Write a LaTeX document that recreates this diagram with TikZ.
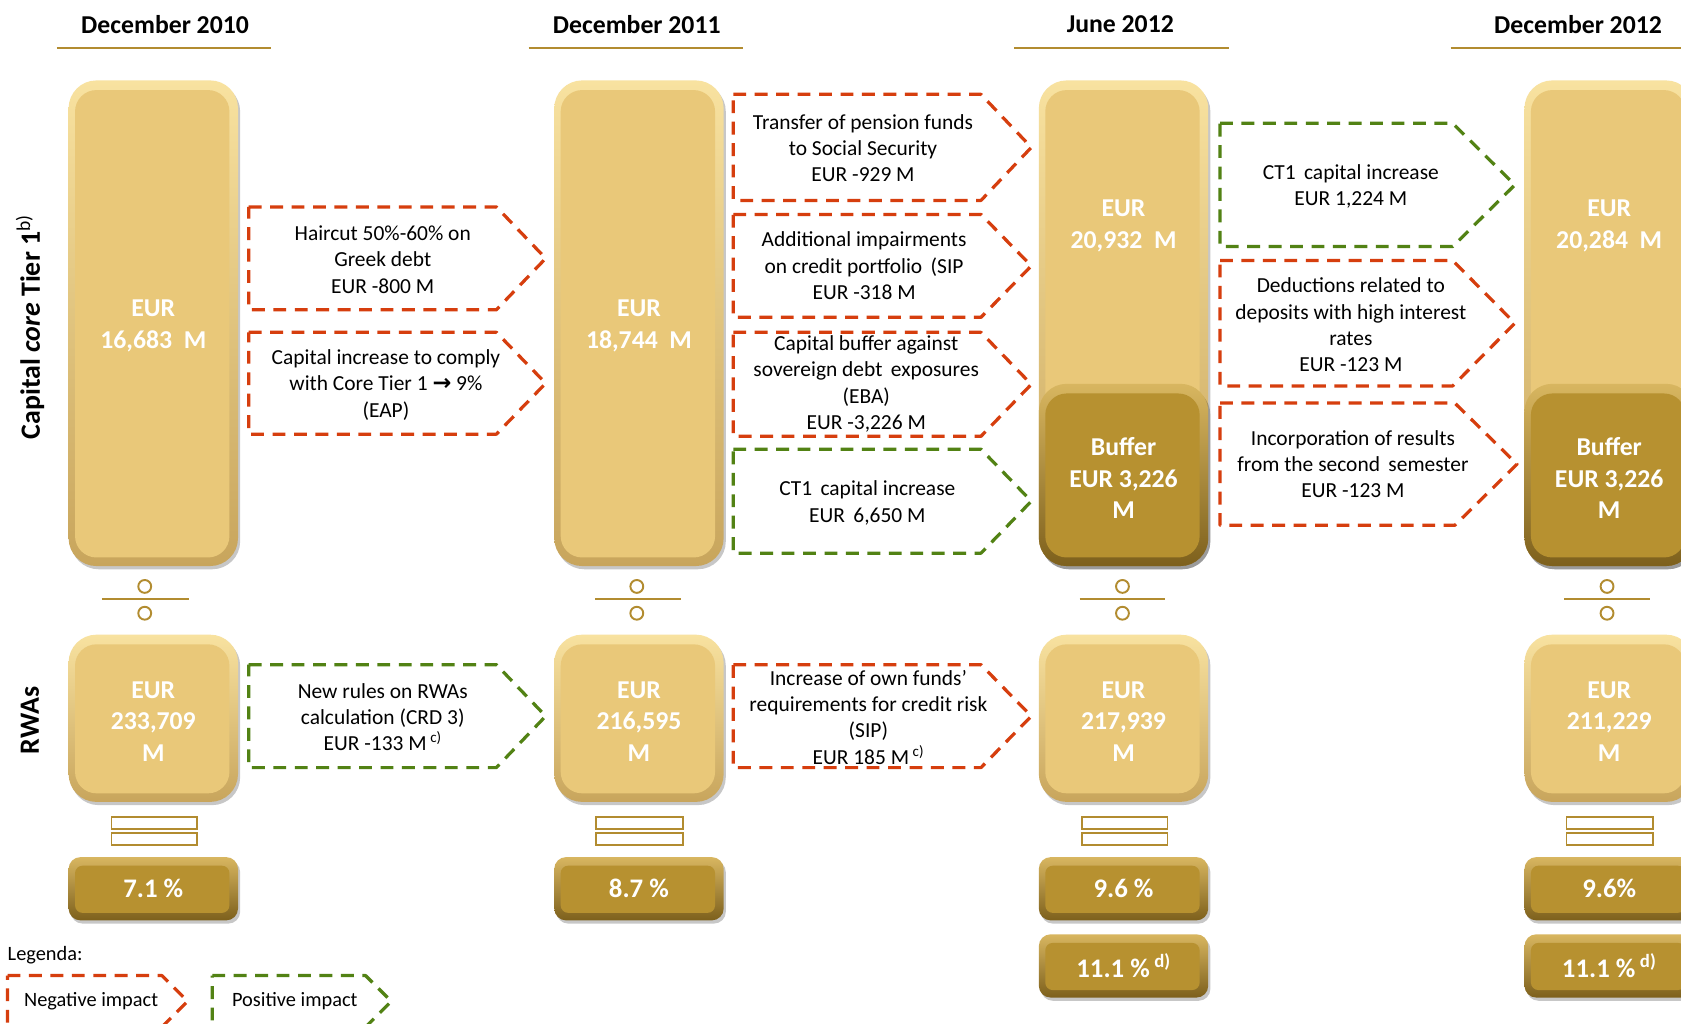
\documentclass[tikz,border=0pt]{standalone}
\usepackage{fontspec}
\setmainfont{Carlito}
\newfontfamily\symfont{DejaVu Sans}
\usetikzlibrary{shadows}

\definecolor{negc}{RGB}{214,62,14}
\definecolor{posc}{RGB}{82,130,20}
\definecolor{goldline}{RGB}{178,140,48}
\definecolor{barmain}{RGB}{233,200,121}
\definecolor{bartop}{RGB}{248,226,160}
\definecolor{barbot}{RGB}{200,165,92}
\definecolor{darkmain}{RGB}{183,145,48}
\definecolor{darktop}{RGB}{216,182,96}
\definecolor{darkbot}{RGB}{125,96,28}

\tikzset{
  lightbig/.style={rounded corners=26pt, draw=none, inner sep=0pt, top color=bartop, bottom color=barbot,
    drop shadow={shadow xshift=2pt, shadow yshift=-3pt, fill=black, opacity=0.22},
    path picture={\fill[barmain, rounded corners=20pt] ([shift={(6pt,-9pt)}]path picture bounding box.north west) rectangle ([shift={(-8pt,8pt)}]path picture bounding box.south east);}},
  darkbig/.style={rounded corners=26pt, draw=none, inner sep=0pt, top color=darktop, bottom color=darkbot,
    drop shadow={shadow xshift=2pt, shadow yshift=-3pt, fill=black, opacity=0.22},
    path picture={\fill[darkmain, rounded corners=20pt] ([shift={(6pt,-9pt)}]path picture bounding box.north west) rectangle ([shift={(-8pt,8pt)}]path picture bounding box.south east);}},
  darksmall/.style={rounded corners=11pt, draw=none, inner sep=0pt, top color=darktop, bottom color=darkbot,
    drop shadow={shadow xshift=2pt, shadow yshift=-3pt, fill=black, opacity=0.22},
    path picture={\fill[darkmain, rounded corners=7pt] ([shift={(6pt,-8pt)}]path picture bounding box.north west) rectangle ([shift={(-8pt,7pt)}]path picture bounding box.south east);}},
  bartext/.style={text=white, align=center, font=\bfseries\fontsize{24}{29.5}\selectfont, inner sep=0pt},
  boxtext/.style={align=center, font=\fontsize{20}{24.5}\selectfont, inner sep=0pt},
  titletext/.style={font=\bfseries\fontsize{24}{28}\selectfont, inner sep=0pt},
  impact/.style={draw=#1, dash pattern=on 12pt off 8pt, line width=3pt, line join=round},
  gl/.style={draw=goldline, line width=1.8pt},
}

\newcommand\impactbox[6]{\draw[impact=#1] (#2,#3) -- (#4,#3) -- (#5,{(#3+#6)/2}) -- (#4,#6) -- (#2,#6) -- cycle;}
\newcommand\divsym[3]{% circle x, line x1, line x2
  \draw[gl, fill=white] (#1,547) circle (6pt);
  \draw[gl] (#2,559) -- (#3,559);
  \draw[gl, fill=white] (#1,572) circle (6pt);}
\newcommand\eqsym[2]{%
  \draw[gl, line width=1.5pt, fill=white] (#1,762) rectangle (#2,773);
  \draw[gl, line width=1.5pt, fill=white] (#1,777) rectangle (#2,788);}

\begin{document}
\begin{tikzpicture}[x=1pt, y=-1pt]
\path[use as bounding box] (0,0) rectangle (1568,955);
\clip (0,0) rectangle (1568,955);
\fill[white] (0,0) rectangle (1568,955);

% titles
\node[titletext] (t1) at (154,23) {December 2010};
\node[titletext] (t2) at (594,23) {December 2011};
\node[titletext] (t3) at (1045,23) {June 2012};
\node[titletext] (t4) at (1472,23) {December 2012};
\draw[gl, line width=2pt] (53,45) -- (253,45);
\draw[gl, line width=2pt] (493,45) -- (693,45);
\draw[gl, line width=2pt] (946,45) -- (1146,45);
\draw[gl, line width=2pt] (1353,45) -- (1568,45);

% side labels
\node[rotate=90, font=\bfseries\fontsize{26}{30}\selectfont, inner sep=0pt] (lcap) at (28,305) {Capital \textit{core} Tier 1\textsuperscript{\mdseries b)}};
\node[rotate=90, font=\bfseries\fontsize{26}{30}\selectfont, inner sep=0pt] (lrwa) at (28,672) {RWAs};

% capital bars
\node[lightbig, minimum width=158pt, minimum height=453pt] (cap1) at (143,301.5) {};
\node[lightbig, minimum width=158pt, minimum height=453pt] (cap2) at (596,301.5) {};
\node[lightbig, minimum width=158pt, minimum height=453pt] (cap3) at (1048,301.5) {};
\node[lightbig, minimum width=158pt, minimum height=453pt] (cap4) at (1501,301.5) {};
\node[darkbig, minimum width=158pt, minimum height=170pt] (buf3) at (1048,443) {};
\node[darkbig, minimum width=158pt, minimum height=170pt] (buf4) at (1501,443) {};

\node[bartext] (v1) at (143,304) {EUR\\16,683\hspace{0.45em}M};
\node[bartext] (v2) at (596,304) {EUR\\18,744\hspace{0.45em}M};
\node[bartext] (v3) at (1048,211) {EUR\\20,932\hspace{0.45em}M};
\node[bartext] (v4) at (1501,211) {EUR\\20,284\hspace{0.45em}M};
\node[bartext] (b3) at (1048,446) {Buffer\\EUR 3,226\\M};
\node[bartext] (b4) at (1501,446) {Buffer\\EUR 3,226\\M};

% divide symbols
\divsym{135}{95}{176}
\divsym{594}{555}{635}
\divsym{1047}{1007}{1087}
\divsym{1499}{1459}{1539}

% RWA boxes
\node[lightbig, minimum width=158pt, minimum height=156pt] (r1) at (143,670) {};
\node[lightbig, minimum width=158pt, minimum height=156pt] (r2) at (596,670) {};
\node[lightbig, minimum width=158pt, minimum height=156pt] (r3) at (1048,670) {};
\node[lightbig, minimum width=158pt, minimum height=156pt] (r4) at (1501,670) {};
\node[bartext] (rv1) at (143,673) {EUR\\233,709\\M};
\node[bartext] (rv2) at (596,673) {EUR\\216,595\\M};
\node[bartext] (rv3) at (1048,673) {EUR\\217,939\\M};
\node[bartext] (rv4) at (1501,673) {EUR\\211,229\\M};

% equals
\eqsym{104}{184}
\eqsym{556}{637}
\eqsym{1009}{1089}
\eqsym{1461}{1542}

% ratio boxes
\node[darksmall, minimum width=158pt, minimum height=59pt, bartext, font=\bfseries\fontsize{25}{29.5}\selectfont] (p1) at (143,829) {7.1 \%};
\node[darksmall, minimum width=158pt, minimum height=59pt, bartext, font=\bfseries\fontsize{25}{29.5}\selectfont] (p2) at (596,829) {8.7 \%};
\node[darksmall, minimum width=158pt, minimum height=59pt, bartext, font=\bfseries\fontsize{25}{29.5}\selectfont] (p3) at (1048,829) {9.6 \%};
\node[darksmall, minimum width=158pt, minimum height=59pt, bartext, font=\bfseries\fontsize{25}{29.5}\selectfont] (p4) at (1501,829) {9.6\%};
\node[darksmall, minimum width=158pt, minimum height=59pt, bartext, font=\bfseries\fontsize{25}{29.5}\selectfont] (q3) at (1048,901) {11.1 \%\,\textsuperscript{d)}};
\node[darksmall, minimum width=158pt, minimum height=59pt, bartext, font=\bfseries\fontsize{25}{29.5}\selectfont] (q4) at (1501,901) {11.1 \%\,\textsuperscript{d)}};

% impact boxes, column 1 -> 2
\impactbox{negc}{232}{193}{463}{509}{289}
\node[boxtext] (tA) at (357,242) {Haircut 50\%-60\% on\\Greek debt\\EUR -800 M};
\impactbox{negc}{232}{310}{463}{509}{405}
\node[boxtext] (tB) at (360,359) {Capital increase to comply\\with Core Tier 1 {\symfont\bfseries\fontsize{21}{20}\selectfont →} 9\%\\(EAP)};
\impactbox{posc}{232}{620}{463}{509}{716}
\node[boxtext] (tC) at (357,669) {New rules on RWAs\\calculation (CRD 3)\\EUR -133 M\,\textsuperscript{c)}};

% column 2 -> 3
\impactbox{negc}{684}{88}{915}{962}{187}
\node[boxtext] (tD) at (805,138) {Transfer of pension funds\\to Social Security\\EUR -929 M};
\impactbox{negc}{684}{200}{915}{962}{296}
\node[boxtext] (tE) at (806,248) {Additional impairments\\on credit portfolio\, (SIP\\EUR -318 M};
\impactbox{negc}{684}{310}{915}{962}{407}
\node[boxtext] (tF) at (808,358) {Capital buffer against\\sovereign debt\, exposures\\(EBA)\\EUR -3,226 M};
\impactbox{posc}{684}{419}{915}{962}{516}
\node[boxtext] (tG) at (809,469) {CT1\, capital increase\\EUR\, 6,650 M};
\impactbox{negc}{684}{620}{915}{962}{716}
\node[boxtext] (tH) at (810,669) {Increase of own funds’\\requirements for credit risk\\(SIP)\\EUR 185 M\,\textsuperscript{c)}};

% column 3 -> 4
\impactbox{posc}{1138}{115}{1355}{1413}{230}
\node[boxtext] (tI) at (1260,174) {CT1\, capital increase\\EUR 1,224 M};
\impactbox{negc}{1138}{243}{1355}{1413}{360}
\node[boxtext] (tJ) at (1260,303) {Deductions related to\\deposits with high interest\\rates\\EUR -123 M};
\impactbox{negc}{1138}{376}{1357}{1415}{490}
\node[boxtext] (tK) at (1262,433) {Incorporation of results\\from the second\, semester\\EUR -123 M};

% legend
\node[anchor=west, font=\fontsize{19}{22}\selectfont, inner sep=0pt] (leg) at (7,891) {Legenda:};
\impactbox{negc}{7}{910}{151}{175}{958}
\node[font=\fontsize{19}{22}\selectfont, inner sep=0pt] (lneg) at (85,934) {Negative impact};
\impactbox{posc}{198}{910}{341}{365}{958}
\node[font=\fontsize{19}{22}\selectfont, inner sep=0pt] (lpos) at (275,934) {Positive impact};
\end{tikzpicture}
\end{document}
